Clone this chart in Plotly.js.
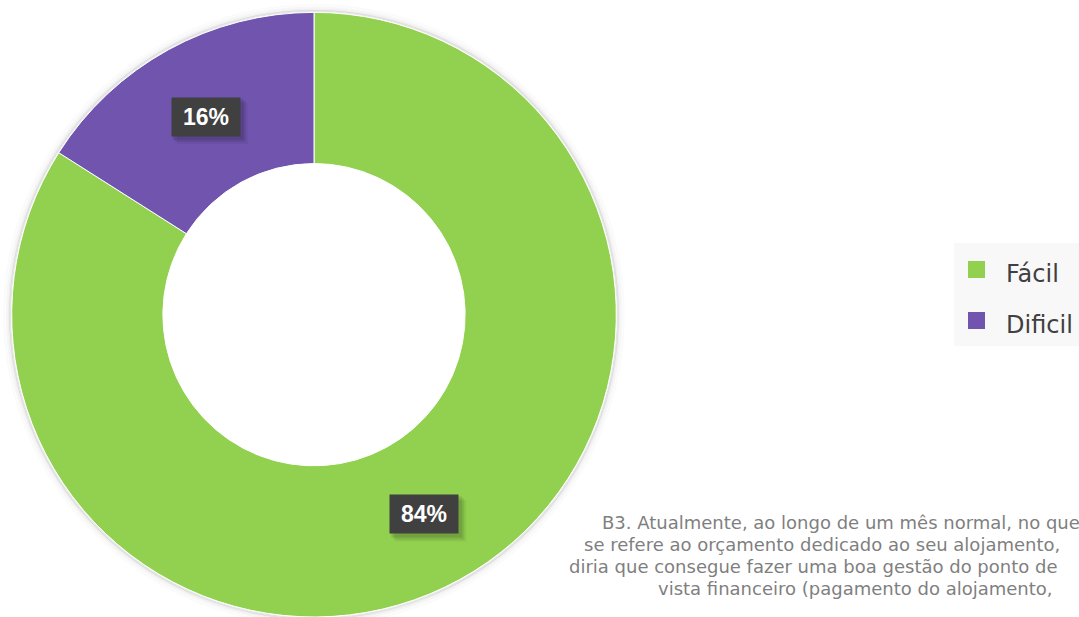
<!DOCTYPE html>
<html><head><meta charset="utf-8">
<script src="https://cdn.plot.ly/plotly-3.0.1.min.js"></script>
<style>html,body{margin:0;padding:0;background:#fff;overflow:hidden}#c{width:1079px;height:617px}</style>
</head><body><div id="c"></div>
<script>
const categories = ['Fácil', 'Dificil'];
const values = [84, 16];
const colors = ['#92D050', '#7054AE'];
const captionLines = [
  'B3. Atualmente, ao longo de um mês normal, no que',
  'se refere ao orçamento dedicado ao seu alojamento,',
  'diria que consegue fazer uma boa gestão do ponto de',
  'vista financeiro (pagamento do alojamento,'
];

const W = 1079, H = 617;
const cx = 314, cy = 314.7, R = 302.3, HOLE = 0.5;
const px = x => x / W, py = y => 1 - y / H;

const total = values.reduce((a, b) => a + b, 0);
const annotations = [];
const shapes = [];

// faint shadow ring around donut
[[1.5,0.10],[3,0.06],[5,0.035],[7.5,0.02]].forEach(([d,o]) => {
  shapes.push({type:'circle', xref:'paper', yref:'paper', layer:'below',
    x0:px(cx-R-d), x1:px(cx+R+d), y0:py(cy+R+d), y1:py(cy-R-d),
    line:{color:'rgba(0,0,0,'+o+')', width:2}, fillcolor:'rgba(0,0,0,0)'});
});

// data labels at slice mid-angles in the ring
const BW = 70, BH = 40;
let cum = 0;
values.forEach((v, i) => {
  const f = (cum + v / 2) / total;
  cum += v;
  const th = (90 - 360 * f) * Math.PI / 180;
  const rm = R * (1 + HOLE) / 2;
  const x = cx + rm * Math.cos(th) + 1, y = cy - rm * Math.sin(th) + 1;
  const txt = Math.round(v / total * 100) + '%';
  // soft shadow
  [[3,0.10],[5,0.08],[7,0.05]].forEach(([d,o]) => {
    shapes.push({type:'rect', xref:'paper', yref:'paper', layer:'above',
      x0:px(x - BW/2 + d - 1), x1:px(x + BW/2 + d), y0:py(y + BH/2 + d), y1:py(y - BH/2 + d - 1),
      fillcolor:'rgba(0,0,0,'+o+')', line:{width:0}});
  });
  annotations.push({xref:'paper', yref:'paper', x:px(x), y:py(y), xanchor:'center', yanchor:'middle',
    text:'<b>'+txt+'</b>', showarrow:false, width:BW-2, height:BH-2, borderpad:0, bgcolor:'#404040',
    font:{size:23, color:'#ffffff', family:'Liberation Sans, Arial'}});
});

// legend box
shapes.push({type:'rect', xref:'paper', yref:'paper', x0:px(954), x1:px(1085), y0:py(346), y1:py(243),
  fillcolor:'#f8f8f8', line:{width:0}});
categories.forEach((c, i) => {
  const yc = 269.5 + i * 51;
  shapes.push({type:'rect', xref:'paper', yref:'paper', x0:px(968), x1:px(985), y0:py(yc+8.5), y1:py(yc-8.5),
    fillcolor:colors[i], line:{width:0}});
  annotations.push({xref:'paper', yref:'paper', x:px(1004), y:py(yc+4), xanchor:'left', yanchor:'middle',
    text:c, showarrow:false, font:{size:24, color:'#404040', family:'DejaVu Sans, sans-serif'}});
});

// caption
const starts = [600, 582, 567, 656];
captionLines.forEach((t, i) => {
  annotations.push({xref:'paper', yref:'paper', x:px(starts[i]), y:py(522 + i * 22), xanchor:'left', yanchor:'middle',
    text:t, showarrow:false, font:{size:18, color:'#7f7f7f', family:'DejaVu Sans, sans-serif'}});
});

const trace = {
  type:'pie', labels:categories, values:values, hole:HOLE, sort:false, direction:'clockwise', rotation:0,
  marker:{colors:colors, line:{color:'#ffffff', width:1}},
  textinfo:'none', hoverinfo:'label+percent',
  domain:{x:[px(cx-R), px(cx+R)], y:[0, 0.98]}
};

Plotly.newPlot('c', [trace], {
  width:W, height:H, margin:{l:0, r:0, t:0, b:0}, showlegend:false,
  paper_bgcolor:'#ffffff', plot_bgcolor:'#ffffff',
  shapes:shapes, annotations:annotations
}, {staticPlot:true});
</script></body></html>
